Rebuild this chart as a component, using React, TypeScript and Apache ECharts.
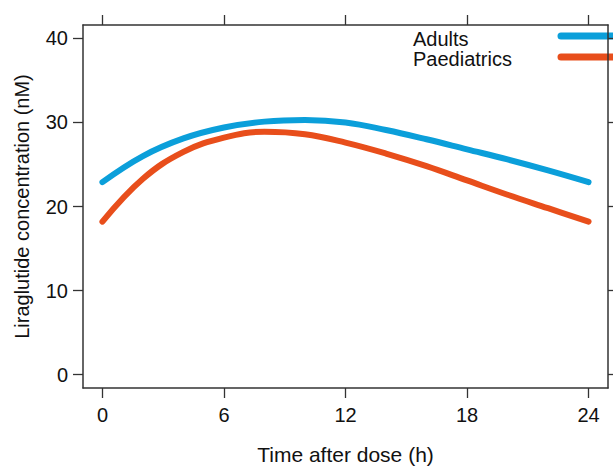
import React, { useEffect, useRef } from "react";
import * as echarts from "echarts";

const hours = [0, 2, 4, 6, 8, 10, 12, 14, 16, 18, 20, 22, 24];
const adults = [22.9, 26.0, 28.1, 29.4, 30.1, 30.3, 30.0, 29.1, 28.0, 26.8, 25.6, 24.3, 22.9];
const paediatrics = [18.2, 23.3, 26.5, 28.2, 28.9, 28.6, 27.6, 26.3, 24.8, 23.1, 21.4, 19.8, 18.2];
const xTicks = [0, 6, 12, 18, 24];
const yTicks = [0, 10, 20, 30, 40];
const seriesNames = ["Adults", "Paediatrics"];
const colors = ["#0B9FDA", "#E84E1B"];

const FONT = "Liberation Sans, Arial, sans-serif";
const AXIS_COLOR = "#333";

export default function App() {
  const ref = useRef<HTMLDivElement>(null);
  useEffect(() => {
    if (!ref.current) return;
    const chart = echarts.init(ref.current, null, { renderer: "svg" });
    const axisLine = { show: true, onZero: false, lineStyle: { color: AXIS_COLOR, width: 1.5 } };
    const tickStyle = { color: AXIS_COLOR, width: 1.3 };
    const option: any = {
      animation: false,
      backgroundColor: "#fff",
      grid: { left: 83, top: 25, right: 5, bottom: 78, containLabel: false },
      xAxis: [
        {
          type: "value",
          position: "bottom",
          min: -0.96,
          max: 24.96,
          axisLine,
          splitLine: { show: false },
          axisTick: { show: true, length: 10, inside: false, lineStyle: tickStyle, customValues: xTicks },
          axisLabel: { show: true, customValues: xTicks, margin: 17, fontSize: 20, fontFamily: FONT, color: "#111" },
          name: "Time after dose (h)",
          nameLocation: "middle",
          nameGap: 56,
          nameTextStyle: { fontSize: 21, fontFamily: FONT, color: "#111" },
        },
        {
          type: "value",
          position: "top",
          min: -0.96,
          max: 24.96,
          axisLine,
          splitLine: { show: false },
          axisTick: { show: true, length: 10, inside: false, lineStyle: tickStyle, customValues: xTicks },
          axisLabel: { show: false, customValues: xTicks },
        },
      ],
      yAxis: [
        {
          type: "value",
          position: "left",
          min: -1.6,
          max: 41.6,
          axisLine,
          splitLine: { show: false },
          axisTick: { show: true, length: 10, inside: false, lineStyle: tickStyle, customValues: yTicks },
          axisLabel: { show: true, customValues: yTicks, margin: 15, fontSize: 20, fontFamily: FONT, color: "#111" },
          name: "Liraglutide concentration (nM)",
          nameLocation: "middle",
          nameGap: 51,
          nameRotate: 90,
          nameTextStyle: { fontSize: 20, fontFamily: FONT, color: "#111" },
        },
        {
          type: "value",
          position: "right",
          min: -1.6,
          max: 41.6,
          axisLine,
          splitLine: { show: false },
          axisTick: { show: true, length: 10, inside: false, lineStyle: tickStyle, customValues: yTicks },
          axisLabel: { show: false, customValues: yTicks },
        },
      ],
      series: [adults, paediatrics].map((vals, i) => ({
        name: seriesNames[i],
        type: "line",
        xAxisIndex: 0,
        yAxisIndex: 0,
        smooth: 0.4,
        showSymbol: false,
        lineStyle: { color: colors[i], width: 6, cap: "round", join: "round" },
        data: hours.map((h, j) => [h, vals[j]]),
      })),
      graphic: seriesNames.flatMap((name, i) => [
        {
          type: "text",
          left: 413,
          top: 29 + i * 20,
          style: { text: name, fontSize: 20, fontFamily: FONT, fill: "#111" },
        },
        {
          type: "line",
          shape: { x1: 561, y1: 36 + i * 21, x2: 625, y2: 36 + i * 21 },
          style: { stroke: colors[i], lineWidth: 7, lineCap: "round" },
        },
      ]),
    };
    chart.setOption(option);
    return () => chart.dispose();
  }, []);
  return (
    <div
      ref={ref}
      style={{ position: "fixed", left: 0, top: 0, width: 613, height: 470 }}
    />
  );
}
